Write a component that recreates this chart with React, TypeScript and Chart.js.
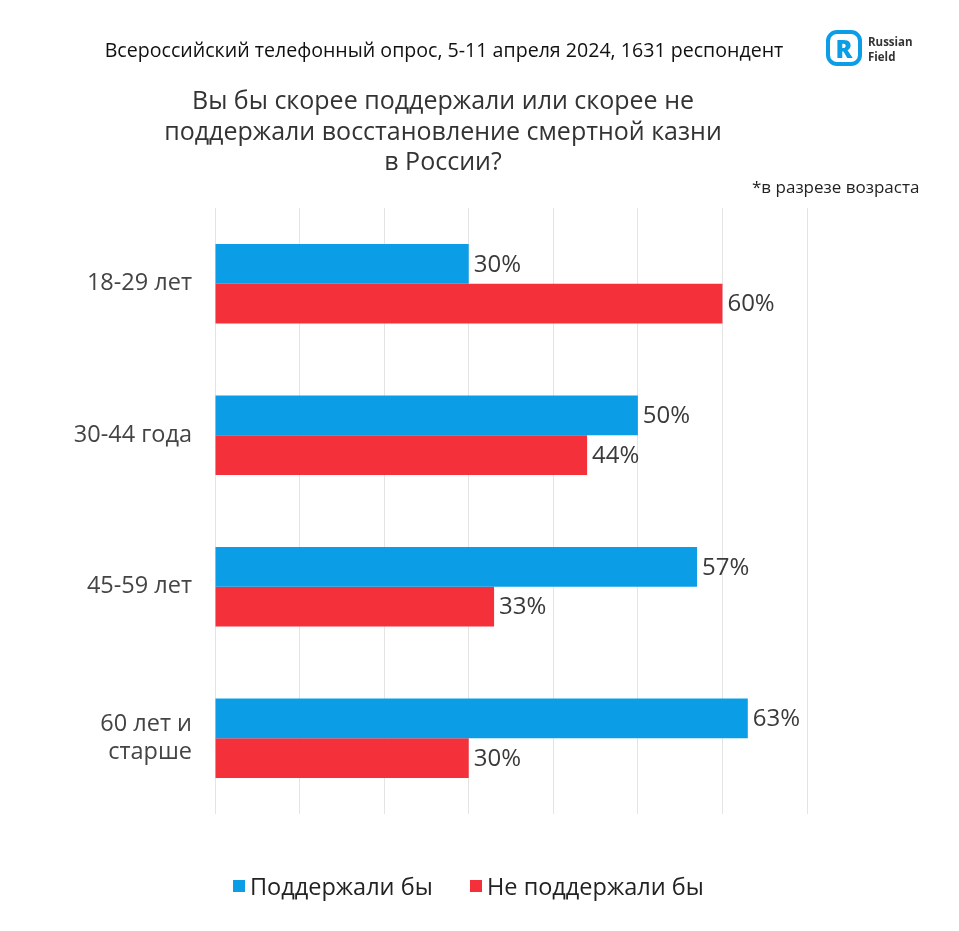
import React, { useEffect, useRef } from "react";
import { Chart, registerables } from "chart.js";

Chart.register(...registerables);

const categories: (string | string[])[] = ["18-29 лет", "30-44 года", "45-59 лет", ["60 лет и", "старше"]];
const supportValues = [30, 50, 57, 63];
const opposeValues = [60, 44, 33, 30];
const seriesNames = ["Поддержали бы", "Не поддержали бы"];
const xTicks = [0, 10, 20, 30, 40, 50, 60, 70];

const BLUE = "#0B9DE6";
const RED = "#F4303A";
const FONT = "'Open Sans', 'Noto Sans', sans-serif";

const valueLabels = {
  id: "valueLabels",
  afterDatasetsDraw(chart: any) {
    const ctx = chart.ctx;
    ctx.save();
    ctx.font = `24px ${FONT}`;
    ctx.fillStyle = "#3a3a3a";
    ctx.textBaseline = "middle";
    ctx.textAlign = "left";
    chart.data.datasets.forEach((ds: any, di: number) => {
      const meta = chart.getDatasetMeta(di);
      meta.data.forEach((bar: any, i: number) => {
        ctx.fillText(`${ds.data[i]}%`, bar.x + 5, bar.y + 1);
      });
    });
    ctx.restore();
  },
};

export default function App() {
  const ref = useRef<HTMLCanvasElement | null>(null);
  useEffect(() => {
    if (!ref.current) return;
    const chart = new Chart(ref.current, {
      type: "bar",
      data: {
        labels: categories as any,
        datasets: [
          { label: seriesNames[0], data: supportValues, backgroundColor: BLUE, categoryPercentage: 0.525, barPercentage: 1 },
          { label: seriesNames[1], data: opposeValues, backgroundColor: RED, categoryPercentage: 0.525, barPercentage: 1 },
        ],
      },
      options: {
        indexAxis: "y",
        responsive: false,
        animation: false,
        layout: { padding: { top: 208, bottom: 117, right: 152, left: 0 } },
        plugins: { legend: { display: false }, tooltip: { enabled: false }, title: { display: false } },
        scales: {
          x: {
            min: xTicks[0],
            max: xTicks[xTicks.length - 1],
            afterBuildTicks: (s: any) => {
              s.ticks = xTicks.map((v) => ({ value: v }));
            },
            ticks: { display: false },
            grid: { color: "#e4e4e4", lineWidth: 1, drawTicks: false },
            border: { display: false },
          },
          y: {
            afterFit: (s: any) => {
              s.width = 215;
            },
            ticks: {
              color: "#444444",
              font: { family: FONT, size: 23.5 },
              padding: 23,
            },
            grid: { display: false, drawTicks: false },
            border: { display: false },
          },
        },
      },
      plugins: [valueLabels],
    });
    return () => chart.destroy();
  }, []);

  const abs = (s: React.CSSProperties): React.CSSProperties => ({ position: "absolute", ...s });

  return (
    <div style={{ position: "absolute", left: 0, top: 0, width: 959, height: 931, background: "#fff", fontFamily: FONT, overflow: "hidden" }}>
      <canvas ref={ref} width={959} height={931} style={abs({ left: 0, top: 0, width: 959, height: 931 })} />
      <div style={abs({ left: 0, width: 888, top: 36, textAlign: "center", fontSize: 19.6, fontWeight: 500, color: "#111", whiteSpace: "nowrap", lineHeight: "28px" })}>
        Всероссийский телефонный опрос, 5-11 апреля 2024, 1631 респондент
      </div>
      <div style={abs({ left: 0, width: 886, top: 84, textAlign: "center", fontSize: 25, color: "#333", lineHeight: "30.5px", whiteSpace: "nowrap" })}>
        Вы бы скорее поддержали или скорее не
        <br />
        поддержали восстановление смертной казни
        <br />
        в России?
      </div>
      <div style={abs({ left: 752, top: 176, fontSize: 17, color: "#222", whiteSpace: "nowrap", lineHeight: "22px" })}>
        *в разрезе возраста
      </div>
      {/* logo */}
      <div style={abs({ left: 826, top: 30, width: 36, height: 36, border: `4px solid ${BLUE}`, borderRadius: 11, boxSizing: "border-box" })} />
      <div style={abs({ left: 826, top: 30, width: 36, height: 36, textAlign: "center", color: BLUE, fontWeight: 800, fontSize: 25, lineHeight: "36px" })}>R</div>
      <div style={abs({ left: 868, top: 34, fontSize: 11.5, fontWeight: 700, color: "#333", lineHeight: "15px" })}>
        Russian
        <br />
        Field
      </div>
      {/* legend */}
      <div style={abs({ left: 233, top: 880, width: 12, height: 12, background: BLUE })} />
      <div style={abs({ left: 250, top: 870, fontSize: 23.5, color: "#222", whiteSpace: "nowrap", lineHeight: "32px" })}>{seriesNames[0]}</div>
      <div style={abs({ left: 470, top: 880, width: 12, height: 12, background: RED })} />
      <div style={abs({ left: 487, top: 870, fontSize: 23.5, color: "#222", whiteSpace: "nowrap", lineHeight: "32px" })}>{seriesNames[1]}</div>
    </div>
  );
}
